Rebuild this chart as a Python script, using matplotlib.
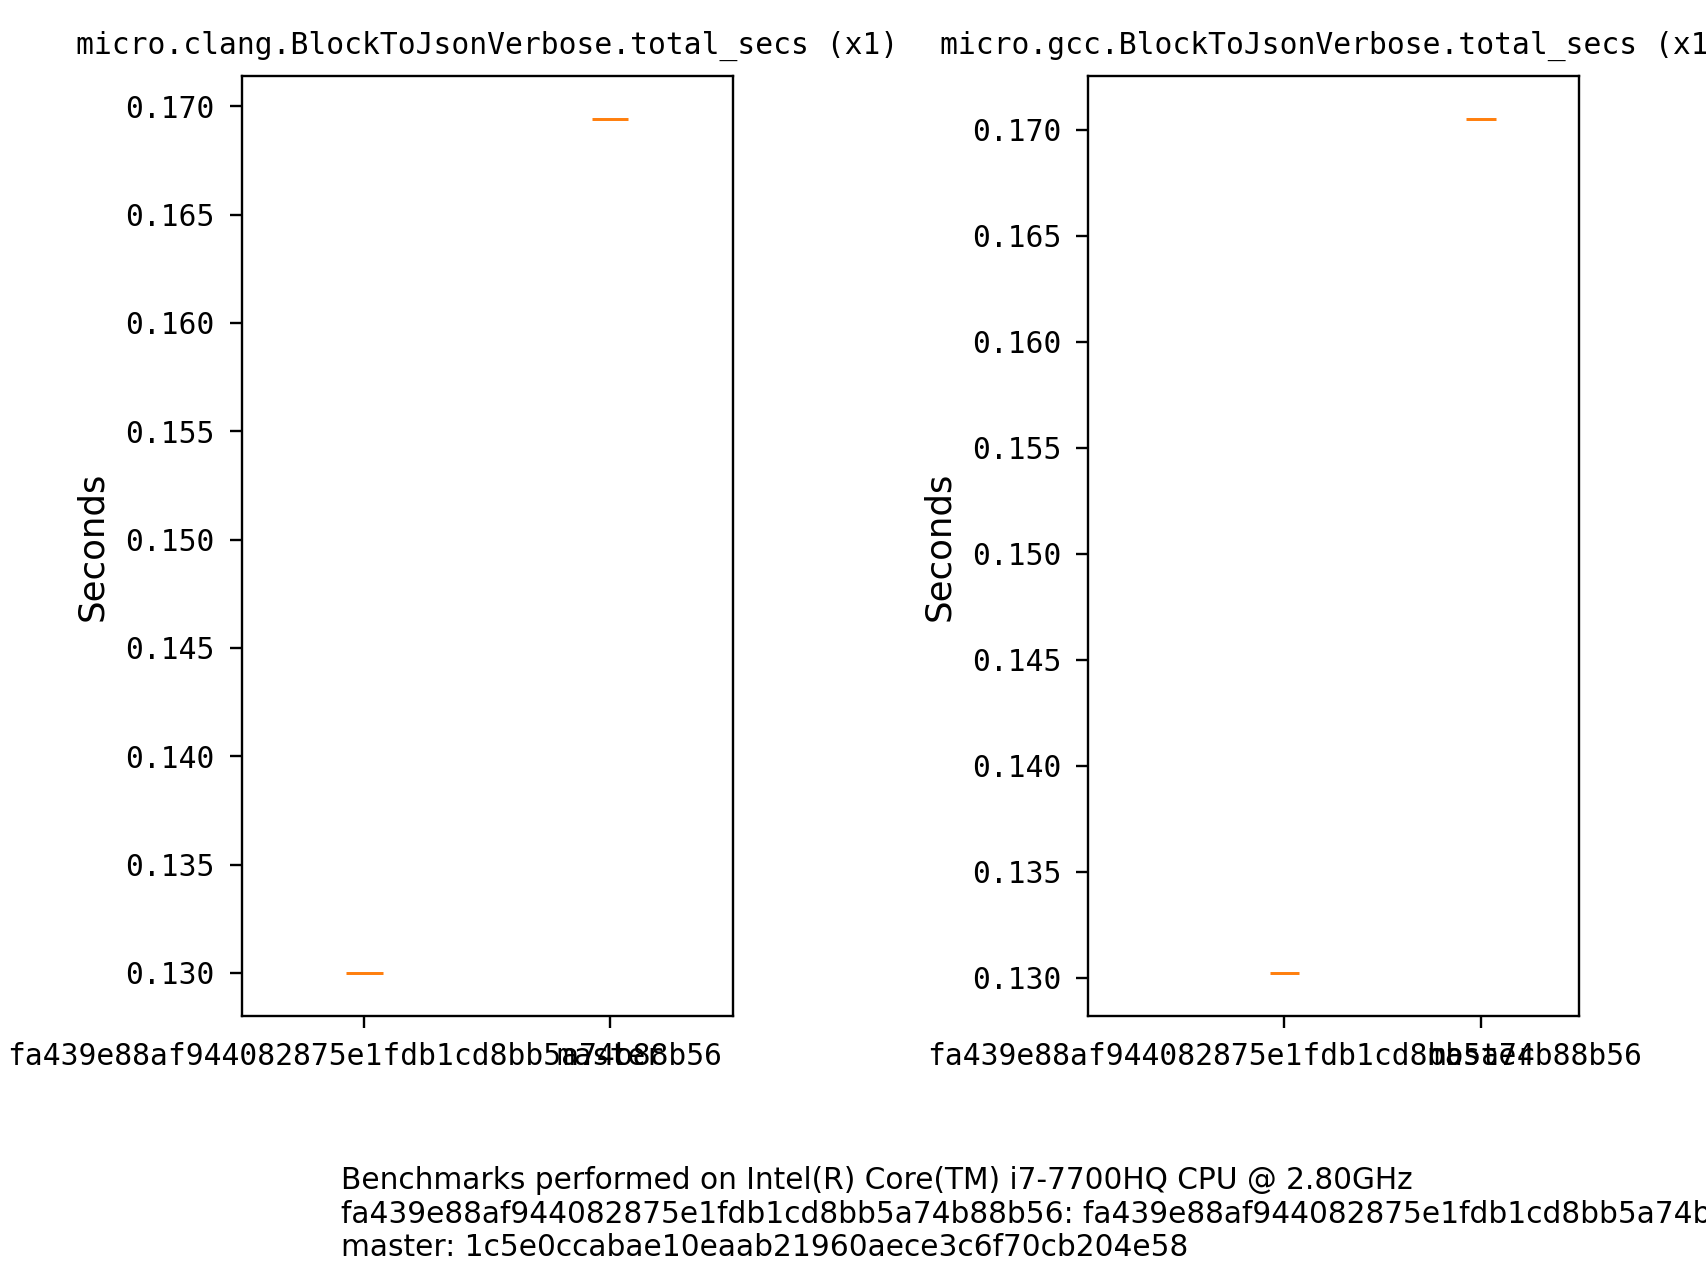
import matplotlib
matplotlib.use("Agg")
import matplotlib.pyplot as plt

# data
commits = ["fa439e88af944082875e1fdb1cd8bb5a74b88b56", "master"]
clang_secs = [0.13000, 0.16942]
gcc_secs = [0.13022, 0.17053]
titles = ["micro.clang.BlockToJsonVerbose.total_secs (x1)",
          "micro.gcc.BlockToJsonVerbose.total_secs (x1)"]
footer_lines = [
    "Benchmarks performed on Intel(R) Core(TM) i7-7700HQ CPU @ 2.80GHz",
    "fa439e88af944082875e1fdb1cd8bb5a74b88b56: fa439e88af944082875e1fdb1cd8bb5a74b88b56",
    "master: 1c5e0ccabae10eaab21960aece3c6f70cb204e58",
]

plt.rcParams.update({
    "font.size": 10,
    "xtick.major.size": 4,
    "ytick.major.size": 4,
    "xtick.major.pad": 4.8,
    "ytick.major.pad": 5,
})

DPI = 640 / 3
fig, axes = plt.subplots(1, 2, figsize=(8, 6), dpi=DPI)
fig.subplots_adjust(left=0.1416, right=0.9252, bottom=0.2065, top=0.9406,
                    wspace=0.7235)

for ax, title, vals in zip(axes, titles, [clang_secs, gcc_secs]):
    bp = ax.boxplot([[v] for v in vals], positions=[1, 2])
    # single samples: only the median line shows
    for key in ("boxes", "whiskers", "caps"):
        for ln in bp[key]:
            ln.set_visible(False)
    ax.set_title(title, family="DejaVu Sans Mono", fontsize=10, pad=7.5)
    ax.set_ylabel("Seconds", fontsize=12, labelpad=5.5)
    ax.set_xticks([1, 2])
    ax.set_xticklabels(commits)
    for lbl in ax.get_xticklabels() + ax.get_yticklabels():
        lbl.set_family("DejaVu Sans Mono")

axes[0].set_xlim(0.5, 2.5)
axes[1].set_xlim(0.0, 2.5)

fig.text(0.2, 0.089, "\n".join(footer_lines), va="top", ha="left")

fig.savefig("out.png", dpi=DPI)
